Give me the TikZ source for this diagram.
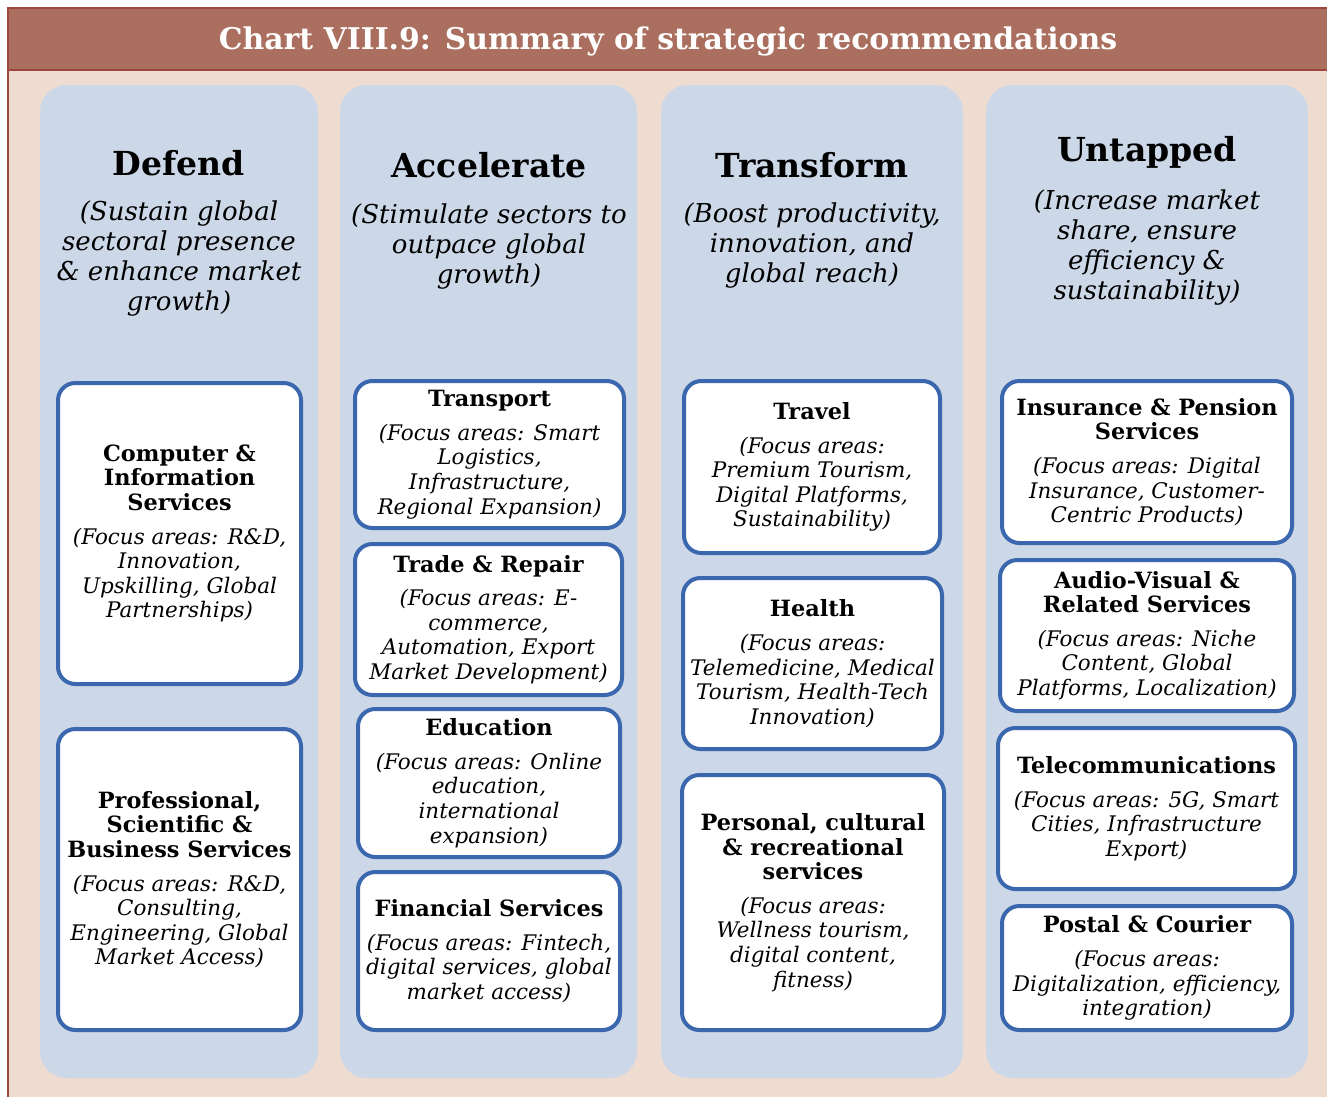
\documentclass[tikz,border=0pt]{standalone}
\usepackage{fontspec}
\setmainfont{DejaVu Serif}
\definecolor{titlebar}{HTML}{AA6F5F}
\definecolor{frameline}{HTML}{A0473D}
\definecolor{peach}{HTML}{EFDCD1}
\definecolor{colblue}{HTML}{CCD7E8}
\definecolor{boxblue}{HTML}{3B67AF}
\newcommand{\svc}[6]{%
  \node[svcbox, minimum width={(#4-#2)*0.75pt}, minimum height={(#5-#3)*0.75pt}]
    (#1) at ({(#2+#4)/2},{(#3+#5)/2}) {#6};}
\newcommand{\hb}[1]{{\fontsize{16.8}{18.4}\selectfont\bfseries #1}}
\newcommand{\fa}[1]{\textit{#1}}
\newcommand{\gap}{\\[7pt]}
\begin{document}
\begin{tikzpicture}[x=0.75pt,y=-0.75pt,
  svcbox/.style={draw=boxblue, line width=3pt, fill=white, rounded corners=13pt,
    align=center, inner sep=0pt, font=\fontsize{16.1}{18.4}\selectfont},
  colbg/.style={fill=colblue, rounded corners=20pt},
  headtitle/.style={font=\fontsize{24.8}{28}\selectfont\bfseries, inner sep=0pt},
  headsub/.style={font=\fontsize{19.5}{22.6}\selectfont\itshape, align=center, inner sep=0pt, anchor=north}]
\useasboundingbox (0,0) rectangle (1327,1097);
\fill[white] (0,0) rectangle (1327,1097);
\fill[peach] (8,70) rectangle (1327,1097);
\fill[titlebar] (8,8) rectangle (1327,70);
\draw[frameline, line width=2pt] (8,1097) -- (8,8) -- (1327,8);
\draw[frameline, line width=1.8pt] (8,70) -- (1327,70);
\node[text=white, font=\fontsize{22.4}{26}\selectfont\bfseries, inner sep=0pt] (title) at (668,41)
  {Chart VIII.9: Summary of strategic recommendations};
% columns
\fill[colbg] (40,85) rectangle (318,1078);
\fill[colbg] (340,85) rectangle (637,1078);
\fill[colbg] (661,85) rectangle (963,1078);
\fill[colbg] (986,85) rectangle (1308,1078);
% headers
\node[headtitle] (h1) at (179,163) {Defend};
\node[headsub] (s1) at (179,200) {(Sustain global\\sectoral presence\\\& enhance market\\growth)};
\node[headtitle] (h2) at (489,165) {Accelerate};
\node[headsub] (s2) at (489,203) {(Stimulate sectors to\\outpace global\\growth)};
\node[headtitle] (h3) at (812,165) {Transform};
\node[headsub] (s3) at (812,202) {(Boost productivity,\\innovation, and\\global reach)};
\node[headtitle] (h4) at (1147,152) {Untapped};
\node[headsub] (s4) at (1147,189) {(Increase market\\share, ensure\\efficiency \&\\sustainability)};
% column 1
\svc{b1}{58}{383}{301}{684}{\hb{Computer \&}\\\hb{Information}\\\hb{Services}\gap\fa{(Focus areas: R\&D,}\\\fa{Innovation,}\\\fa{Upskilling, Global}\\\fa{Partnerships)}}
\svc{b2}{58}{729}{301}{1030}{\hb{Professional,}\\\hb{Scientific \&}\\\hb{Business Services}\gap\fa{(Focus areas: R\&D,}\\\fa{Consulting,}\\\fa{Engineering, Global}\\\fa{Market Access)}}
% column 2
\svc{b3}{355}{381}{624}{528}{\hb{Transport}\gap\fa{(Focus areas: Smart}\\\fa{Logistics,}\\\fa{Infrastructure,}\\\fa{Regional Expansion)}}
\svc{b4}{355}{544}{622}{695}{\hb{Trade \& Repair}\gap\fa{(Focus areas: E-}\\\fa{commerce,}\\\fa{Automation, Export}\\\fa{Market Development)}}
\svc{b5}{358}{709}{620}{857}{\hb{Education}\gap\fa{(Focus areas: Online}\\\fa{education,}\\\fa{international}\\\fa{expansion)}}
\svc{b6}{358}{872}{620}{1030}{\hb{Financial Services}\gap\fa{(Focus areas: Fintech,}\\\fa{digital services, global}\\\fa{market access)}}
% column 3
\svc{b7}{684}{381}{940}{553}{\hb{Travel}\gap\fa{(Focus areas:}\\\fa{Premium Tourism,}\\\fa{Digital Platforms,}\\\fa{Sustainability)}}
\svc{b8}{683}{578}{942}{749}{\hb{Health}\gap\fa{(Focus areas:}\\\fa{Telemedicine, Medical}\\\fa{Tourism, Health-Tech}\\\fa{Innovation)}}
\svc{b9}{682}{775}{944}{1030}{\hb{Personal, cultural}\\\hb{\& recreational}\\\hb{services}\gap\fa{(Focus areas:}\\\fa{Wellness tourism,}\\\fa{digital content,}\\\fa{fitness)}}
% column 4
\svc{b10}{1002}{381}{1292}{543}{\hb{Insurance \& Pension}\\\hb{Services}\gap\fa{(Focus areas: Digital}\\\fa{Insurance, Customer-}\\\fa{Centric Products)}}
\svc{b11}{1000}{560}{1294}{711}{\hb{Audio-Visual \&}\\\hb{Related Services}\gap\fa{(Focus areas: Niche}\\\fa{Content, Global}\\\fa{Platforms, Localization)}}
\svc{b12}{998}{728}{1295}{889}{\hb{Telecommunications}\gap\fa{(Focus areas: 5G, Smart}\\\fa{Cities, Infrastructure}\\\fa{Export)}}
\svc{b13}{1002}{906}{1292}{1030}{\hb{Postal \& Courier}\gap\fa{(Focus areas:}\\\fa{Digitalization, efficiency,}\\\fa{integration)}}
\end{tikzpicture}
\end{document}
